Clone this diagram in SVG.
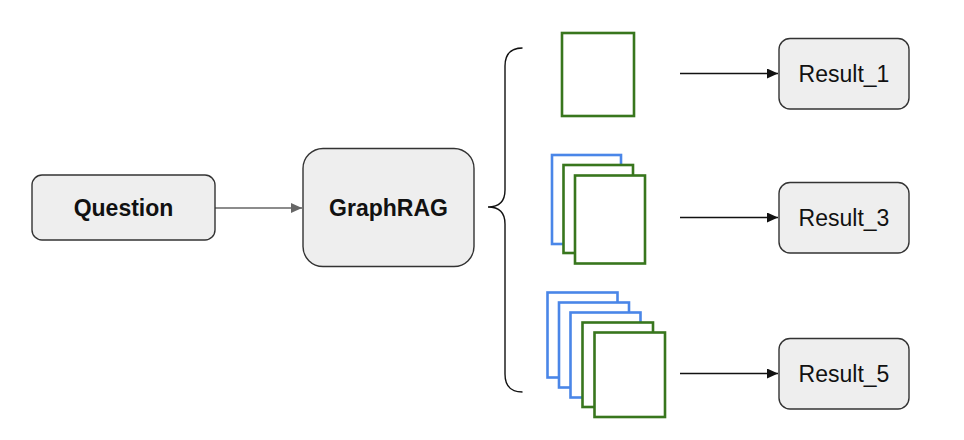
<svg xmlns="http://www.w3.org/2000/svg" width="964" height="440" viewBox="0 0 964 440">
<style>
.box{fill:#eeeeee;stroke:#333333;stroke-width:1.4}
.lbl{font-family:"Liberation Sans",Arial,sans-serif;font-size:23px;fill:#111111;text-anchor:middle}
.b{font-weight:bold}
.doc{fill:#ffffff;stroke-width:2.6}
.g{stroke:#38761d}
.bl{stroke:#4a86e8}
.ln{fill:none;stroke:#111111;stroke-width:1.4}
</style>
<defs>
<marker id="ah" markerWidth="12" markerHeight="10" refX="11" refY="5" orient="auto" markerUnits="userSpaceOnUse">
<path d="M0,0 L11,5 L0,10 Z" fill="#111111"/>
</marker>
<marker id="ahg" markerWidth="12" markerHeight="10" refX="11" refY="5" orient="auto" markerUnits="userSpaceOnUse">
<path d="M0,0 L11,5 L0,10 Z" fill="#666666"/>
</marker>
</defs>
<rect width="964" height="440" fill="#ffffff"/>
<g id="connectors">
<line x1="215" y1="208" x2="302" y2="208" stroke="#666666" stroke-width="1.4" marker-end="url(#ahg)"/>
<line x1="680" y1="73.5" x2="778" y2="73.5" class="ln" marker-end="url(#ah)"/>
<line x1="680" y1="217.5" x2="778" y2="217.5" class="ln" marker-end="url(#ah)"/>
<line x1="680" y1="373.5" x2="778" y2="373.5" class="ln" marker-end="url(#ah)"/>
</g>
<g id="question">
<rect class="box" x="32" y="175" width="183" height="65" rx="10"/>
<text class="lbl b" x="123.5" y="216">Question</text>
</g>
<g id="graphrag">
<rect class="box" x="303" y="148.5" width="171" height="118" rx="20"/>
<text class="lbl b" x="388.5" y="216">GraphRAG</text>
</g>
<g id="brace">
<path class="ln" d="M522.5,48 Q505,48 505,66 L505,190 Q505,207 488,207 Q505,207 505,224 L505,374 Q505,392 522.5,392"/>
</g>
<g id="docs1">
<rect class="doc g" x="562" y="33" width="72" height="83"/>
</g>
<g id="docs3">
<rect class="doc bl" x="552" y="155" width="69" height="89"/>
<rect class="doc g" x="563.5" y="165" width="69.5" height="88"/>
<rect class="doc g" x="575" y="175.5" width="70" height="88"/>
</g>
<g id="docs5">
<rect class="doc bl" x="547.5" y="292.5" width="70" height="85"/>
<rect class="doc bl" x="559" y="302.5" width="70" height="85"/>
<rect class="doc bl" x="570.5" y="312.5" width="70" height="85"/>
<rect class="doc g" x="582.5" y="322.5" width="70.5" height="84.5"/>
<rect class="doc g" x="594.5" y="332.5" width="70.5" height="84.5"/>
</g>
<g id="result1">
<rect class="box" x="779" y="38.5" width="130" height="70.5" rx="11"/>
<text class="lbl" x="844" y="82">Result_1</text>
</g>
<g id="result3">
<rect class="box" x="779" y="182.5" width="130" height="70.5" rx="11"/>
<text class="lbl" x="844" y="226">Result_3</text>
</g>
<g id="result5">
<rect class="box" x="779" y="338.5" width="130" height="70.5" rx="11"/>
<text class="lbl" x="844" y="382">Result_5</text>
</g>
</svg>
